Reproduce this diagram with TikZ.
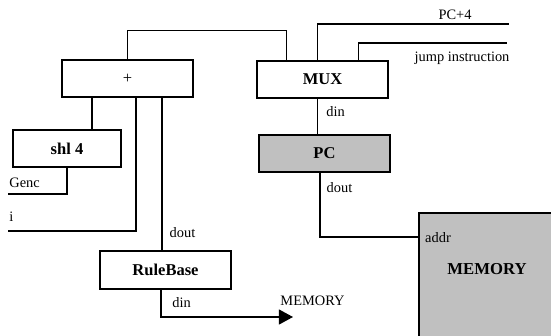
\documentclass[tikz,border=0pt]{standalone}
\usepackage{fontspec}
\setmainfont{Liberation Serif}
\usetikzlibrary{arrows.meta}
\definecolor{boxgray}{RGB}{192,192,192}
\tikzset{
    block/.style = {draw, line width=0.9pt, minimum width=2.62cm, minimum height=0.74cm,
        inner sep=0pt, font=\fontsize{9.4}{11}\selectfont\bfseries},
    grayblock/.style = {block, fill=boxgray},
    wire/.style = {line width=0.75pt},
    lbl/.style = {inner sep=0pt, font=\fontsize{8.2}{10}\selectfont}
}

\begin{document}
\begin{tikzpicture}[x=0.02cm, y=-0.02cm]
    \useasboundingbox (0,0) rectangle (551,335);
    \clip (0,0) rectangle (551,335);

    % blocks
    \node[block] (plus) at (127.5,78.5) {\mdseries +};
    \node[block] (mux) at (322.5,79.5) {MUX};
    \node[grayblock] (pc) at (324.5,153.5) {PC};
    \node[block, minimum width=2.16cm] (shl) at (67,148.5) {shl 4};
    \node[block, minimum height=0.76cm] (rule) at (165.5,270) {RuleBase};
    \node[grayblock, anchor=north west, minimum width=4cm, minimum height=3.5cm] (mem) at (418,212) {};
    \node[lbl, font=\fontsize{9.5}{11}\selectfont\bfseries] (memtext) at (487,269) {MEMORY};

    % free ends
    \coordinate (pcfour) at (509,24);
    \coordinate (jump) at (507,43);
    \coordinate (genc) at (8,194);
    \coordinate (iin) at (8,231);
    \coordinate (memout) at (293,317);

    % wires round the MUX
    \draw[wire] (plus.north) -- ++(0,-29) -| ([xshift=0.6cm]mux.north west);
    \draw[wire] ([xshift=-0.1cm]mux.north) |- (pcfour);
    \draw[wire] ([xshift=0.72cm]mux.north) |- (jump);
    \draw[wire] ([xshift=-0.1cm]mux.south) -- ([xshift=-0.1cm]mux.south |- pc.north);
    \draw[wire] ([xshift=-0.09cm]pc.south) |- ([yshift=-0.5cm]mem.north west);

    % wires round the adder
    \draw[wire] ([xshift=-0.71cm]plus.south) -- ([xshift=-0.71cm]plus.south |- shl.north);
    \draw[wire] (shl.south) |- (genc);
    \draw[wire] ([xshift=0.17cm]plus.south) |- (iin);
    \draw[wire] ([xshift=0.69cm]plus.south) -- ([xshift=0.69cm]plus.south |- rule.north);
    \draw[wire, -{Triangle[length=8pt, width=8.5pt]}] ([xshift=-0.09cm]rule.south) |- (memout);

    % labels
    \node[lbl] (pcfourlbl) at (455,15) {PC+4};
    \node[lbl] (jumplbl) at (462,58) {jump instruction};
    \node[lbl] (muxdin) at (335.5,112) {din};
    \node[lbl] (pcdout) at (339.5,188) {dout};
    \node[lbl] (addr) at (438,238) {addr};
    \node[lbl, anchor=west] (genclbl) at (9,183) {Genc};
    \node[lbl, anchor=west] (ilbl) at (9,217) {i};
    \node[lbl] (ruledout) at (182.5,233) {dout};
    \node[lbl] (ruledin) at (181.7,303) {din};
    \node[lbl] (memlbl) at (312.5,301) {MEMORY};
\end{tikzpicture}
\end{document}
